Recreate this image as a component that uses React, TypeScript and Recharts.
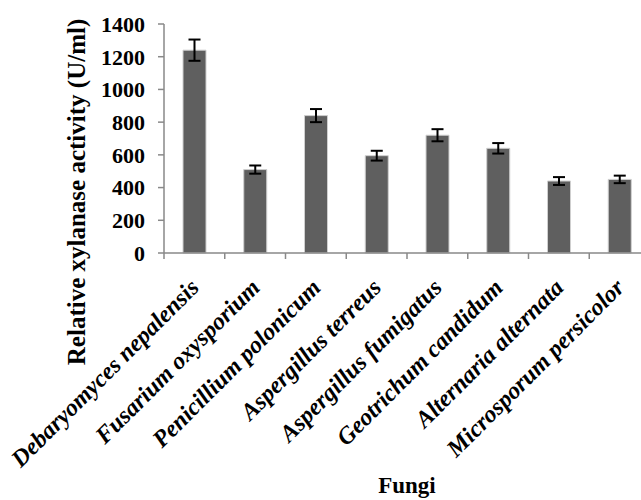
import { BarChart, Bar, XAxis, YAxis, ErrorBar, Label } from 'recharts';

const fungi = [
  'Debaryomyces nepalensis',
  'Fusarium oxysporium',
  'Penicillium polonicum',
  'Aspergillus terreus',
  'Aspergillus fumigatus',
  'Geotrichum candidum',
  'Alternaria alternata',
  'Microsporum persicolor',
];
const activity = [1240, 510, 840, 595, 720, 640, 440, 450];
const errors = [65, 25, 40, 30, 37, 32, 24, 23];
const yTicks = [0, 200, 400, 600, 800, 1000, 1200, 1400];

const data = fungi.map((name, i) => ({ name, activity: activity[i], err: errors[i] }));

const FONT = '"Liberation Serif", "Times New Roman", serif';
const AXIS = '#898989';

const CHART_W = 660;
const PLOT_LEFT = 164;
const PLOT_RIGHT = 10;
const band = (CHART_W - PLOT_LEFT - PLOT_RIGHT) / fungi.length;

function FungusTick(props: any) {
  const { x, y, payload } = props;
  const tx = x + 6;
  const ty = y + 30;
  return (
    <g>
      <line x1={x - band / 2} x2={x - band / 2} y1={y - 6} y2={y} stroke={AXIS} strokeWidth={1.5} />
      <text
        x={tx}
        y={ty}
        transform={`rotate(-45, ${tx}, ${ty})`}
        textAnchor="end"
        fontFamily={FONT}
        fontWeight="bold"
        fontStyle="italic"
        fontSize={24}
        fill="#000"
      >
        {payload.value}
      </text>
    </g>
  );
}

export default function App() {
  return (
    <div style={{ position: 'fixed', top: 0, left: 0, width: 641, height: 500, overflow: 'hidden', background: '#fff' }}>
      <BarChart
        width={CHART_W}
        height={500}
        data={data}
        margin={{ top: 24, right: PLOT_RIGHT, left: 0, bottom: 0 }}
      >
        <XAxis
          dataKey="name"
          height={247}
          interval={0}
          axisLine={{ stroke: AXIS, strokeWidth: 1.5 }}
          tickLine={false}
          tickSize={6}
          tickMargin={0}
          tick={<FungusTick />}
        >
          <Label
            content={(p: any) => {
              const vb = p.viewBox || { x: PLOT_LEFT, width: CHART_W - PLOT_LEFT - PLOT_RIGHT };
              const cx = vb.x + vb.width / 2;
              return (
                <text
                  x={cx}
                  y={493}
                  textAnchor="middle"
                  fontFamily={FONT}
                  fontWeight="bold"
                  fontSize={23}
                  fill="#000"
                >
                  Fungi
                </text>
              );
            }}
          />
        </XAxis>
        <YAxis
          width={PLOT_LEFT}
          domain={[0, 1400]}
          ticks={yTicks}
          interval={0}
          axisLine={{ stroke: AXIS, strokeWidth: 1.5 }}
          tickLine={{ stroke: AXIS, strokeWidth: 1.5 }}
          tickSize={6}
          tickMargin={13}
          tick={{ fontFamily: FONT, fontWeight: 'bold', fontSize: 22, fill: '#000' }}
        >
          <Label
            content={() => (
              <text
                x={76}
                y={192}
                transform="rotate(-90, 76, 192)"
                textAnchor="middle"
                dominantBaseline="central"
                fontFamily={FONT}
                fontWeight="bold"
                fontSize={25}
                fill="#000"
              >
                Relative xylanase activity (U/ml)
              </text>
            )}
          />
        </YAxis>
        <Bar dataKey="activity" fill="#5f5f5f" stroke="#cfcfcf" strokeWidth={1} barSize={23} isAnimationActive={false}>
          <ErrorBar dataKey="err" width={6} strokeWidth={2} stroke="#000" isAnimationActive={false} />
        </Bar>
      </BarChart>
    </div>
  );
}
